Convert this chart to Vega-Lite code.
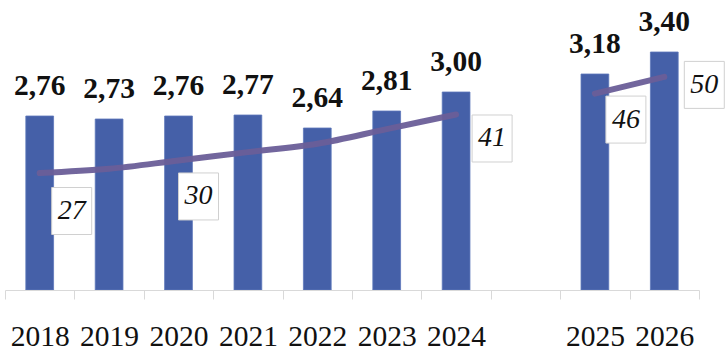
{
  "$schema": "https://vega.github.io/schema/vega-lite/v6.json",
  "width": 694,
  "height": 290,
  "autosize": {"type": "none"},
  "padding": {"left": 5, "top": 0, "right": 28, "bottom": 68},
  "background": "white",
  "config": {
    "view": {"stroke": null},
    "locale": {"number": {"decimal": ",", "thousands": " ", "grouping": [3], "currency": ["", ""]}}
  },
  "data": {
    "values": [
      {"year": "2018", "rate": 2.76, "index": 27, "seg": "a"},
      {"year": "2019", "rate": 2.73, "index": 28, "seg": "a"},
      {"year": "2020", "rate": 2.76, "index": 30, "seg": "a"},
      {"year": "2021", "rate": 2.77, "index": 32, "seg": "a"},
      {"year": "2022", "rate": 2.64, "index": 34, "seg": "a"},
      {"year": "2023", "rate": 2.81, "index": 37.5, "seg": "a"},
      {"year": "2024", "rate": 3.00, "index": 41, "seg": "a"},
      {"year": "2025", "rate": 3.18, "index": 46, "seg": "b"},
      {"year": "2026", "rate": 3.40, "index": 50, "seg": "b"}
    ]
  },
  "encoding": {
    "x": {
      "field": "year",
      "type": "ordinal",
      "sort": null,
      "scale": {
        "domain": ["2018", "2019", "2020", "2021", "2022", "2023", "2024", "gap", "2025", "2026"],
        "paddingInner": 0,
        "paddingOuter": 0
      },
      "axis": {
        "title": null,
        "labelAngle": 0,
        "labelExpr": "datum.value == 'gap' ? '' : datum.value",
        "labelFont": "Liberation Serif",
        "labelFontSize": 29.5,
        "labelColor": "#111111",
        "labelPadding": 23,
        "tickBand": "extent",
        "tickSize": 9,
        "tickColor": "#d9d9d9",
        "tickWidth": 1,
        "domainColor": "#d9d9d9",
        "domainWidth": 1.2,
        "grid": false,
        "zindex": 1
      }
    }
  },
  "layer": [
    {
      "encoding": {
        "y": {
          "field": "rate",
          "type": "quantitative",
          "scale": {"domain": [1.02, 3.92], "zero": false, "nice": false},
          "axis": null
        }
      },
      "layer": [
        {
          "mark": {"type": "bar", "width": {"band": 0.4}, "color": "#4560a8", "stroke": "#5d77ba", "strokeWidth": 0.8, "clip": true},
          "encoding": {"y2": {"datum": 1.02}}
        },
        {
          "mark": {"type": "text", "font": "Liberation Serif", "fontWeight": "bold", "fontSize": 29.5, "baseline": "alphabetic", "align": "center", "dy": -21, "color": "#111111"},
          "encoding": {"text": {"field": "rate", "type": "quantitative", "format": ".2f"}}
        }
      ]
    },
    {
      "encoding": {
        "y": {
          "field": "index",
          "type": "quantitative",
          "scale": {"domain": [-1, 68.4], "zero": false, "nice": false},
          "axis": null
        }
      },
      "layer": [
        {
          "mark": {"type": "line", "color": "#6a5e98", "strokeWidth": 6, "strokeCap": "round", "interpolate": "monotone", "opacity": 0.95},
          "encoding": {"detail": {"field": "seg"}}
        },
        {
          "transform": [{"filter": "datum.year == '2018'"}],
          "mark": {"type": "point", "shape": "M0.511,0.617L2.213,0.617L2.213,2.617L0.511,2.617Z", "size": 2209, "filled": true, "fill": "white", "stroke": "#d0d0d0", "strokeWidth": 1, "opacity": 1}
        },
        {
          "transform": [{"filter": "datum.year == '2020'"}],
          "mark": {"type": "point", "shape": "M0,0.532L1.702,0.532L1.702,2.532L0,2.532Z", "size": 2209, "filled": true, "fill": "white", "stroke": "#d0d0d0", "strokeWidth": 1, "opacity": 1}
        },
        {
          "transform": [{"filter": "datum.year == '2024'"}],
          "mark": {"type": "point", "shape": "M0.681,0.021L2.383,0.021L2.383,2.021L0.681,2.021Z", "size": 2209, "filled": true, "fill": "white", "stroke": "#d0d0d0", "strokeWidth": 1, "opacity": 1}
        },
        {
          "transform": [{"filter": "datum.year == '2025'"}],
          "mark": {"type": "point", "shape": "M0.468,0.106L2.170,0.106L2.170,2.106L0.468,2.106Z", "size": 2209, "filled": true, "fill": "white", "stroke": "#d0d0d0", "strokeWidth": 1, "opacity": 1}
        },
        {
          "transform": [{"filter": "datum.year == '2026'"}],
          "mark": {"type": "point", "shape": "M0.851,-0.660L2.553,-0.660L2.553,1.340L0.851,1.340Z", "size": 2209, "filled": true, "fill": "white", "stroke": "#d0d0d0", "strokeWidth": 1, "opacity": 1}
        },
        {
          "transform": [{"filter": "datum.year == '2018'"}],
          "mark": {"type": "text", "font": "Liberation Serif", "fontStyle": "italic", "fontSize": 28, "baseline": "middle", "align": "center", "dx": 32, "dy": 38, "color": "#111111"},
          "encoding": {"text": {"field": "index", "type": "quantitative"}}
        },
        {
          "transform": [{"filter": "datum.year == '2020'"}],
          "mark": {"type": "text", "font": "Liberation Serif", "fontStyle": "italic", "fontSize": 28, "baseline": "middle", "align": "center", "dx": 20, "dy": 36, "color": "#111111"},
          "encoding": {"text": {"field": "index", "type": "quantitative"}}
        },
        {
          "transform": [{"filter": "datum.year == '2024'"}],
          "mark": {"type": "text", "font": "Liberation Serif", "fontStyle": "italic", "fontSize": 28, "baseline": "middle", "align": "center", "dx": 36, "dy": 24, "color": "#111111"},
          "encoding": {"text": {"field": "index", "type": "quantitative"}}
        },
        {
          "transform": [{"filter": "datum.year == '2025'"}],
          "mark": {"type": "text", "font": "Liberation Serif", "fontStyle": "italic", "fontSize": 28, "baseline": "middle", "align": "center", "dx": 31, "dy": 26, "color": "#111111"},
          "encoding": {"text": {"field": "index", "type": "quantitative"}}
        },
        {
          "transform": [{"filter": "datum.year == '2026'"}],
          "mark": {"type": "text", "font": "Liberation Serif", "fontStyle": "italic", "fontSize": 28, "baseline": "middle", "align": "center", "dx": 40, "dy": 8, "color": "#111111"},
          "encoding": {"text": {"field": "index", "type": "quantitative"}}
        }
      ]
    }
  ],
  "resolve": {"scale": {"y": "independent"}}
}
